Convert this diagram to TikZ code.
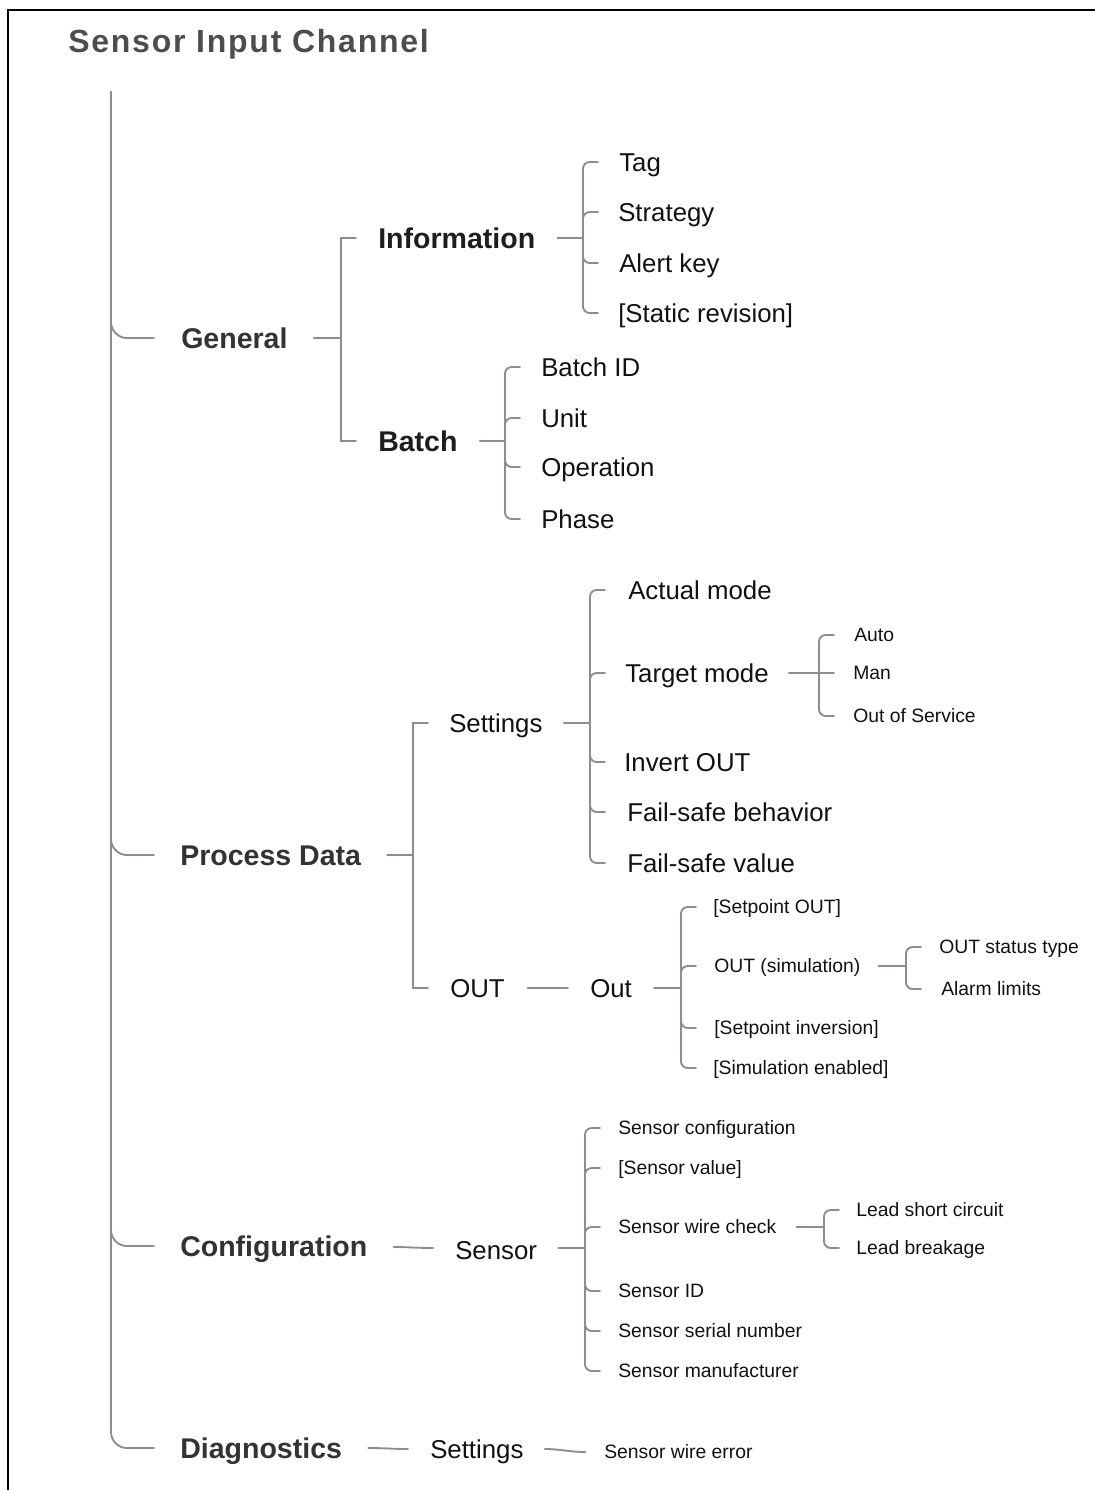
\documentclass[tikz,border=0pt]{standalone}
\usepackage{fontspec}
\setmainfont{Liberation Sans}
\newfontfamily\titlefont[LetterSpace=5.5]{Liberation Sans}
\usetikzlibrary{calc}

\definecolor{titlegray}{HTML}{4D4D50}
\definecolor{headgray}{HTML}{333333}
\definecolor{subhead}{HTML}{1E1E1E}
\definecolor{leafink}{HTML}{111111}
\definecolor{linegray}{HTML}{8C8C94}

\tikzset{
  lbl/.style={inner sep=0pt, anchor=west, text depth=0pt},
  titletext/.style={lbl, text=titlegray, text height=17.2pt,
    font=\titlefont\bfseries\fontsize{24pt}{28pt}\selectfont},
  headtext/.style={lbl, text=headgray, text height=15.3pt,
    font=\bfseries\fontsize{21.4pt}{25pt}\selectfont},
  subtext/.style={lbl, text=subhead, text height=15.3pt,
    font=\bfseries\fontsize{21.4pt}{25pt}\selectfont},
  midtext/.style={lbl, text=leafink, text height=13.85pt,
    font=\fontsize{19.35pt}{23pt}\selectfont},
  smalltext/.style={lbl, text=leafink, text height=10.4pt,
    font=\fontsize{14.5pt}{17pt}\selectfont},
  link/.style={draw=linegray, line width=1.4pt, line cap=round},
  soft/.style={link, rounded corners=5pt},
  trunkbranch/.style={link, rounded corners=12pt},
}

\begin{document}
\begin{tikzpicture}[x=0.75pt, y=-0.75pt]
\useasboundingbox (0,0) rectangle (1095,1490);

% page frame (top and left edges)
\draw[black, line width=0.8pt] (1095,10) -- (8,10) -- (8,1490);

% title
\node[titletext] (title) at (68,41) {Sensor Input Channel};

% first level
\node[headtext] (general)  at (181,338)  {General};
\node[headtext] (procdata) at (180,855)  {Process Data};
\node[headtext] (config)   at (180,1246) {Configuration};
\node[headtext] (diag)     at (180,1448) {Diagnostics};

% trunk with rounded branches
\coordinate (root) at (111,92);
\foreach \n in {general,procdata,config,diag}
  \draw[trunkbranch] (root) |- ($(\n.west -| root)+(43,0)$);

% ---------------- General ----------------
\node[subtext] (info)  at (378,238) {Information};
\node[subtext] (batch) at (378,441) {Batch};
\coordinate (jGen) at (341,338);
\draw[link] ([xshift=19.5pt]general.east) -- (jGen);
\foreach \n in {info,batch}
  \draw[link] (jGen) |- ($(\n.west -| jGen)+(15,0)$);

\node[midtext] (tag)      at (619,162) {Tag};
\node[midtext] (strategy) at (618,212) {Strategy};
\node[midtext] (alert)    at (619,263) {Alert key};
\node[midtext] (static)   at (618,313) {[Static revision]};
\coordinate (jInfo) at (583,238);
\draw[link] ([xshift=16.5pt]info.east) -- (jInfo);
\foreach \n in {tag,strategy,alert,static}
  \draw[soft] (jInfo) |- ($(\n.west -| jInfo)+(15,0)$);

\node[midtext] (batchid)   at (541,367) {Batch ID};
\node[midtext] (unit)      at (541,418) {Unit};
\node[midtext] (operation) at (541,467) {Operation};
\node[midtext] (phase)     at (541,519) {Phase};
\coordinate (jBatch) at (505,441);
\draw[link] ([xshift=16.5pt]batch.east) -- (jBatch);
\foreach \n in {batchid,unit,operation,phase}
  \draw[soft] (jBatch) |- ($(\n.west -| jBatch)+(15,0)$);

% ---------------- Process Data ----------------
\node[midtext] (settings) at (449,723) {Settings};
\node[midtext] (outgrp)   at (450,988) {OUT};
\coordinate (jProc) at (413,855);
\draw[link] ([xshift=19.5pt]procdata.east) -- (jProc);
\foreach \n in {settings,outgrp}
  \draw[link] (jProc) |- ($(\n.west -| jProc)+(15,0)$);

\node[midtext] (actual) at (628,590) {Actual mode};
\node[midtext] (target) at (625,673) {Target mode};
\node[midtext] (invert) at (624,762) {Invert OUT};
\node[midtext] (fsb)    at (627,812) {Fail-safe behavior};
\node[midtext] (fsv)    at (627,863) {Fail-safe value};
\coordinate (jSet) at (590,723);
\draw[link] ([xshift=15.75pt]settings.east) -- (jSet);
\foreach \n in {actual,target,invert,fsb,fsv}
  \draw[soft] (jSet) |- ($(\n.west -| jSet)+(15,0)$);

\node[smalltext] (auto) at (854,635) {Auto};
\node[smalltext] (man)  at (853,673) {Man};
\node[smalltext] (oos)  at (853,716) {Out of Service};
\coordinate (jTgt) at (819,673);
\draw[link] ([xshift=15pt]target.east) -- (jTgt);
\foreach \n in {auto,oos}
  \draw[soft] (jTgt) |- ($(\n.west -| jTgt)+(15,0)$);
\draw[link] (jTgt) -- ($(man.west -| jTgt)+(15,0)$);

\node[midtext] (outval) at (590,988) {Out};
\draw[link] ([xshift=17pt]outgrp.east) -- ([xshift=-16.5pt]outval.west);

\node[smalltext] (spout) at (713,907)  {[Setpoint OUT]};
\node[smalltext] (sim)   at (714,966)  {OUT (simulation)};
\node[smalltext] (spinv) at (714,1028) {[Setpoint inversion]};
\node[smalltext] (simen) at (713,1068) {[Simulation enabled]};
\coordinate (jOut) at (681,988);
\draw[link] ([xshift=16.5pt]outval.east) -- (jOut);
\foreach \n in {spout,sim,spinv,simen}
  \draw[soft] (jOut) |- ($(\n.west -| jOut)+(15,0)$);

\node[smalltext] (stype)  at (939,947) {OUT status type};
\node[smalltext] (alarm)  at (941,989) {Alarm limits};
\coordinate (jSim) at (906,966);
\draw[link] ([xshift=13.5pt]sim.east) -- (jSim);
\foreach \n in {stype,alarm}
  \draw[soft] (jSim) |- ($(\n.west -| jSim)+(15,0)$);

% ---------------- Configuration ----------------
\node[midtext] (sensor) at (455,1250) {Sensor};
\draw[link] ([xshift=19.5pt,yshift=-0.75pt]config.east) to[out=0,in=180]
  ([xshift=-16.5pt,yshift=1.5pt]sensor.west);

\node[smalltext] (sconf)  at (618,1128) {Sensor configuration};
\node[smalltext] (sval)   at (618,1168) {[Sensor value]};
\node[smalltext] (swire)  at (618,1227) {Sensor wire check};
\node[smalltext] (sid)    at (618,1291) {Sensor ID};
\node[smalltext] (sser)   at (618,1331) {Sensor serial number};
\node[smalltext] (sman)   at (618,1371) {Sensor manufacturer};
\coordinate (jSen) at (585,1248);
\draw[link] ([xshift=15.75pt,yshift=1.5pt]sensor.east) -- (jSen);
\foreach \n in {sconf,sval,swire,sid,sser,sman}
  \draw[soft] (jSen) |- ($(\n.west -| jSen)+(15,0)$);

\node[smalltext] (lshort) at (856,1210) {Lead short circuit};
\node[smalltext] (lbreak) at (856,1248) {Lead breakage};
\coordinate (jWire) at (824,1227);
\draw[link] ([xshift=15pt]swire.east) -- (jWire);
\foreach \n in {lshort,lbreak}
  \draw[soft] (jWire) |- ($(\n.west -| jWire)+(15,0)$);

% ---------------- Diagnostics ----------------
\node[midtext] (dset) at (430,1449) {Settings};
\draw[link] ([xshift=19.5pt]diag.east) to[out=0,in=180] ([xshift=-16.5pt]dset.west);
\node[smalltext] (swerr) at (604,1452) {Sensor wire error};
\draw[link] ([xshift=15.75pt]dset.east) to[out=0,in=180] ([xshift=-14pt]swerr.west);

\end{tikzpicture}
\end{document}
